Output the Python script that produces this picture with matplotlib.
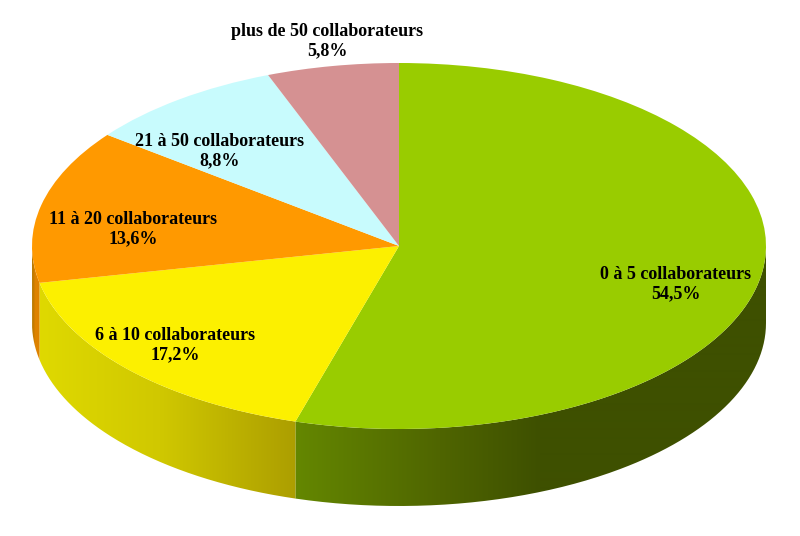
import numpy as np
import matplotlib
matplotlib.use('Agg')
import matplotlib.pyplot as plt
from matplotlib.colors import to_rgb
from matplotlib.path import Path
from matplotlib.patches import PathPatch

# share of companies by number of staff
categories = ['0 à 5 collaborateurs', '6 à 10 collaborateurs', '11 à 20 collaborateurs',
              '21 à 50 collaborateurs', 'plus de 50 collaborateurs']
values = [54.5, 17.2, 13.6, 8.8, 5.8]
value_labels = ['54,5%', '17,2%', '13,6%', '8,8%', '5,8%']
colors = ['#99cc00', '#fcf000', '#ff9900', '#c8fbfd', '#d59192']

# rim shading, left to right
rim_stops = [
    [(296, '#648700'), (440, '#4f6500'), (540, '#3e5000'), (766, '#3e5000')],
    [(33, '#e0da00'), (160, '#d0c800'), (296, '#ac9e00')],
    [(32, '#b87800'), (35, '#de8200'), (40, '#de8200')],
    [], [],
]

# layout in pixels
W, H = 800, 536
CX, CY, RX, RY = 399, 246, 367, 183
DEPTH = 77
label_xy = [(676, 284), (175, 345), (133, 229), (220, 151), (327, 41)]

fig = plt.figure(figsize=(W / 100, H / 100), dpi=100)
ax = fig.add_axes([0, 0, 1, 1])

depth = DEPTH / RY
xlim = (-CX / RX, (W - CX) / RX)
ylim = ((CY - H) / RY, CY / RY)

# walls first, the top goes over them
fracs = np.array(values) / sum(values)
edges = np.concatenate([[0], np.cumsum(fracs)]) * 2 * np.pi
for i in range(len(values)):
    a0 = max(edges[i], np.pi / 2)
    a1 = min(edges[i + 1], 3 * np.pi / 2)
    if a1 <= a0 or not rim_stops[i]:
        continue
    t = np.linspace(a0, a1, 200)
    x = np.sin(t)
    y = np.cos(t)
    verts = np.vstack([np.column_stack([x, y]),
                       np.column_stack([x[::-1], y[::-1] - depth]),
                       [[x[0], y[0]]]])
    clip = PathPatch(Path(verts), transform=ax.transData, fc='none', ec='none')
    ax.add_patch(clip)
    px = np.arange(W)
    xs = [s[0] for s in rim_stops[i]]
    cols = np.array([to_rgb(s[1]) for s in rim_stops[i]])
    grad = np.dstack([np.interp(px, xs, cols[:, k]) for k in range(3)])
    im = ax.imshow(grad, extent=(xlim[0], xlim[1], ylim[0], ylim[1]), aspect='auto',
                   interpolation='bilinear', zorder=1)
    im.set_clip_path(clip)

wedges, _ = ax.pie(values, colors=colors, startangle=90, counterclock=False, radius=1,
                   wedgeprops=dict(linewidth=0, zorder=2))

ax.set_aspect('auto')
ax.set_xlim(*xlim)
ax.set_ylim(*ylim)
ax.axis('off')

for name, val, (px_x, px_y) in zip(categories, value_labels, label_xy):
    ax.text((px_x - CX) / RX, (CY - px_y) / RY, name + '\n' + val, ha='center', va='center',
            family='Liberation Serif', fontweight='bold', fontsize=13, linespacing=1.2,
            color='#000000', zorder=3)

plt.savefig('out.png', dpi=100)
